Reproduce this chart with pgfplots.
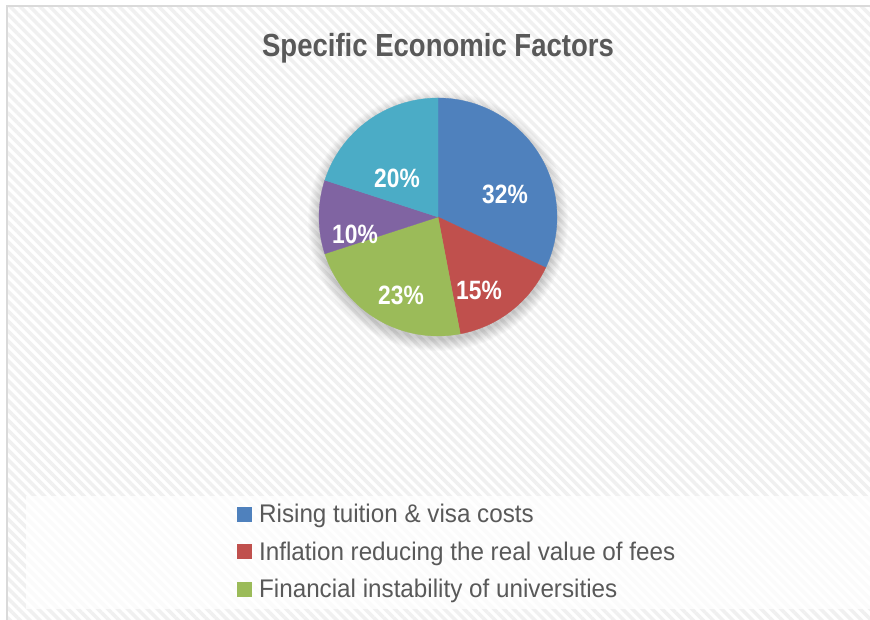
\documentclass[border=0pt]{standalone}
\usepackage{pgfplots}
\pgfplotsset{compat=1.18}
\usepackage{pgfplotstable}
\usepackage{fontspec}
\setmainfont{Liberation Sans}[FakeStretch=0.86]
\newfontfamily\legfont{Liberation Sans}[FakeStretch=0.95]
\usetikzlibrary{patterns.meta}

\definecolor{pieblue}{HTML}{4F81BD}
\definecolor{piered}{HTML}{C0504D}
\definecolor{piegreen}{HTML}{9BBB59}
\definecolor{piepurple}{HTML}{8064A2}
\definecolor{pieteal}{HTML}{4BACC6}
\definecolor{txtgray}{HTML}{595959}
\definecolor{framegray}{HTML}{DADADA}
\definecolor{hatch}{HTML}{F0F0F0}

% share of each factor, in percent (clockwise from 12 o'clock)
\pgfplotstableread{
factor pct
tuition 32
inflation 15
instability 23
other 10
other2 20
}\piedata

\newcommand\getpct[2]{\pgfplotstablegetelem{#1}{pct}\of\piedata\let#2\pgfplotsretval}

\begin{document}
\begin{tikzpicture}[x=1pt,y=1pt]
\getpct{0}\pA \getpct{1}\pB \getpct{2}\pC \getpct{3}\pD \getpct{4}\pE
\pgfmathsetmacro\aA{90}
\pgfmathsetmacro\aB{\aA-3.6*\pA}
\pgfmathsetmacro\aC{\aB-3.6*\pB}
\pgfmathsetmacro\aD{\aC-3.6*\pC}
\pgfmathsetmacro\aE{\aD-3.6*\pD}
\pgfmathsetmacro\aF{\aE-3.6*\pE}
% background, frame and legend band (picture units = pixels of the chart)
\fill[white] (0,0) rectangle (870,620);
\fill[pattern={Lines[angle=-45,distance=7pt,line width=3.5pt]}, pattern color=hatch]
  (7.5,0) rectangle (870,612.5);
\draw[framegray, line width=2pt] (6.5,0) -- (6.5,613.5) -- (870,613.5);
\fill[white, opacity=0.75] (26,11) rectangle (870,124);
\begin{axis}[
  at={(0,0)}, anchor=south west,
  scale only axis, width=870pt, height=620pt,
  xmin=0, xmax=870, ymin=0, ymax=620,
  hide axis, clip=false,
  legend style={at={(axis cs:237,117)}, anchor=north west, draw=none, fill=none,
    inner sep=0pt, outer sep=0pt, row sep=11.5pt,
    font=\legfont\fontsize{25.5}{30}\selectfont, text=txtgray,
    nodes={inner sep=0pt, text height=20pt, text depth=6pt}},
  legend cell align=left,
  legend image code/.code={\fill[#1,draw=none] (0pt,-6pt) rectangle (15pt,9pt); \path (22pt,0pt);},
]
% soft shadow under the pie
\pgfplotsinvokeforeach{1,...,12}{
  \fill[black, opacity=0.014] (axis cs:438,399) circle[radius=118pt+#1pt];
}

\addplot[fill=pieblue, draw=pieblue, line width=0.3pt, domain=\aB:\aA, samples=80, variable=\t]
  ({438+119*cos(\t)},{403+119*sin(\t)}) -- (axis cs:438,403) -- cycle;
\addlegendentry{Rising tuition \& visa costs}
\addplot[fill=piered, draw=piered, line width=0.3pt, domain=\aC:\aB, samples=50, variable=\t]
  ({438+119*cos(\t)},{403+119*sin(\t)}) -- (axis cs:438,403) -- cycle;
\addlegendentry{Inflation reducing the real value of fees}
\addplot[fill=piegreen, draw=piegreen, line width=0.3pt, domain=\aD:\aC, samples=60, variable=\t]
  ({438+119*cos(\t)},{403+119*sin(\t)}) -- (axis cs:438,403) -- cycle;
\addlegendentry{Financial instability of universities}
\addplot[forget plot, fill=piepurple, draw=piepurple, line width=0.3pt, domain=\aE:\aD, samples=40, variable=\t]
  ({438+119*cos(\t)},{403+119*sin(\t)}) -- (axis cs:438,403) -- cycle;
\addplot[forget plot, fill=pieteal, draw=pieteal, line width=0.3pt, domain=\aF:\aE, samples=50, variable=\t]
  ({438+119*cos(\t)},{403+119*sin(\t)}) -- (axis cs:438,403) -- cycle;

% title and slice labels
\node[anchor=base, text=txtgray, font=\fontsize{32}{36}\selectfont\bfseries]
  at (axis cs:438,563.5) {Specific Economic Factors};
\begin{scope}[every node/.style={text=white, inner sep=0pt, font=\fontsize{26.5}{30}\selectfont\bfseries}]
\node at (axis cs:505,426) {\pA\%};
\node at (axis cs:479,330) {\pB\%};
\node at (axis cs:401,325) {\pC\%};
\node at (axis cs:355,386) {\pD\%};
\node at (axis cs:397,442) {\pE\%};
\end{scope}
\end{axis}
\pgfresetboundingbox
\useasboundingbox (0,0) rectangle (870,620);
\end{tikzpicture}
\end{document}
